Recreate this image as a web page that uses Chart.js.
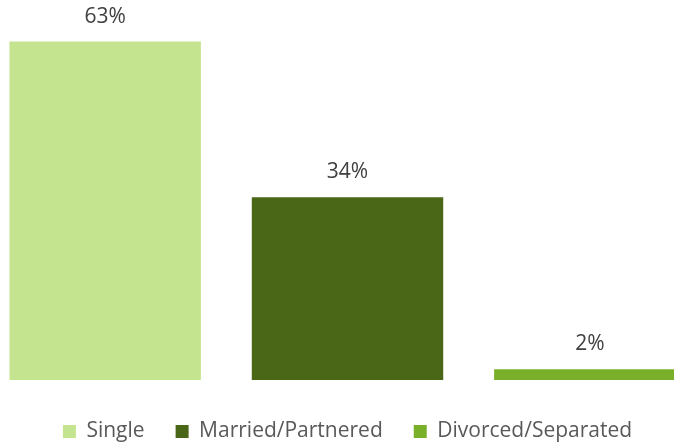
<!DOCTYPE html>
<html>
<head>
<meta charset="utf-8">
<script src="https://cdn.jsdelivr.net/npm/chart.js@4"></script>
<style>
  html, body { margin: 0; padding: 0; background: #fff; overflow: hidden; width: 674px; height: 447px; }
  #wrap { position: absolute; left: -16px; top: 0; width: 727px; height: 452px; }
</style>
</head>
<body>
<div id="wrap"><canvas id="chart" width="727" height="452"></canvas></div>
<script>
const categories = ['Single', 'Married/Partnered', 'Divorced/Separated'];
const values = [63, 34, 2];
const colors = ['#C5E48F', '#4A6717', '#7AAF2A'];

// draws the "63%" style labels over each bar
const barLabels = {
  id: 'barLabels',
  afterDatasetsDraw(chart) {
    const ctx = chart.ctx;
    const meta = chart.getDatasetMeta(0);
    ctx.save();
    ctx.font = '21px "Open Sans"';
    ctx.fillStyle = '#404040';
    ctx.textAlign = 'center';
    ctx.textBaseline = 'middle';
    meta.data.forEach((bar, i) => {
      ctx.fillText(values[i] + '%', bar.x, bar.y - 25);
    });
    ctx.restore();
  }
};

new Chart(document.getElementById('chart'), {
  type: 'bar',
  data: {
    labels: categories,
    datasets: [{
      data: values,
      backgroundColor: colors,
      categoryPercentage: 1,
      barPercentage: 0.79
    }]
  },
  plugins: [barLabels],
  options: {
    responsive: false,
    animation: false,
    layout: { padding: { top: 4, left: 0, right: 0, bottom: 0 } },
    plugins: {
      tooltip: { enabled: false },
      legend: {
        position: 'bottom',
        labels: {
          boxWidth: 13,
          boxHeight: 13,
          padding: 31,
          color: '#595959',
          font: { family: '"Open Sans"', size: 21 },
          generateLabels: () => categories.map((c, i) => ({
            text: c,
            fillStyle: colors[i],
            strokeStyle: colors[i],
            lineWidth: 0,
            fontColor: '#595959',
            index: i
          }))
        }
      }
    },
    scales: {
      x: {
        display: true,
        grid: { display: false },
        border: { display: false },
        ticks: { display: false },
        afterFit: (scale) => { scale.height = 10; }
      },
      y: {
        display: false,
        min: 0,
        max: 70
      }
    }
  }
});
</script>
</body>
</html>
